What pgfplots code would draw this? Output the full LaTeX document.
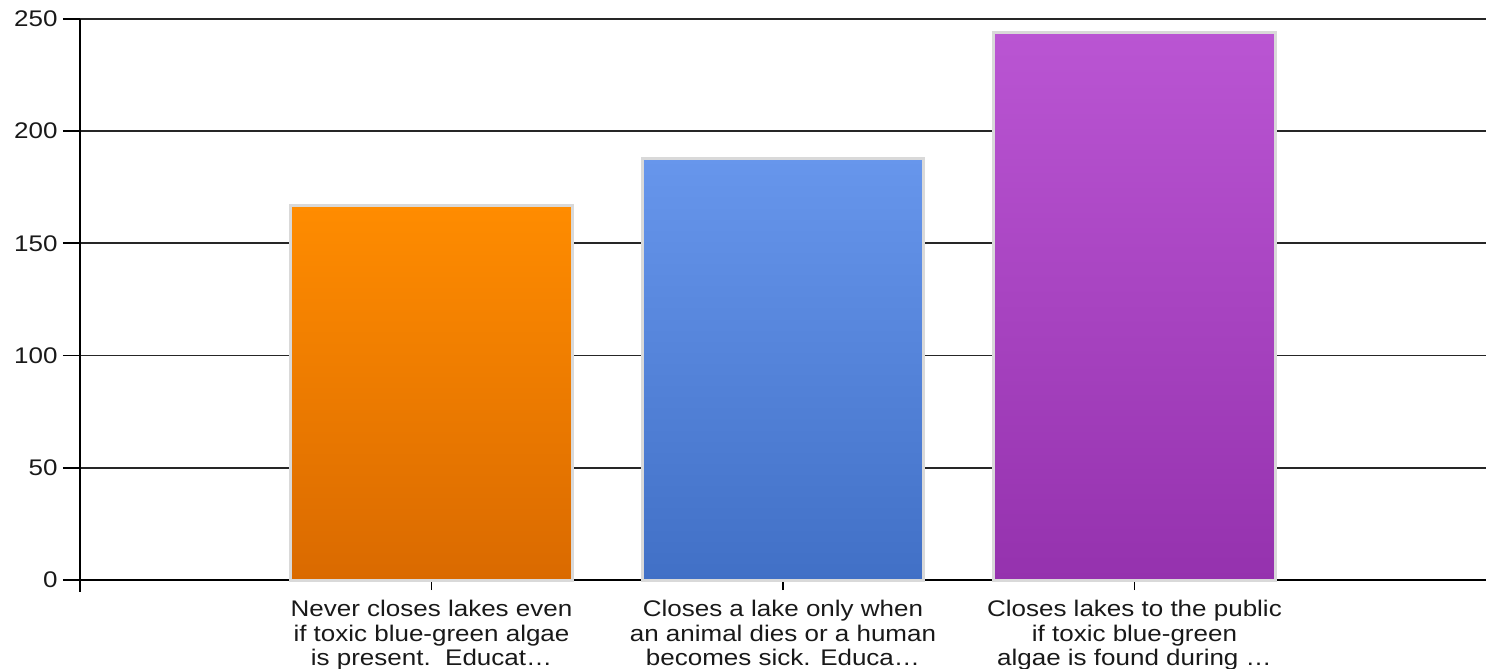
\documentclass[border=0pt]{standalone}
\usepackage{fontspec}
\setmainfont{Liberation Sans}[FakeStretch=1.15]
\usepackage{pgfplots}
\pgfplotsset{compat=1.18}

\definecolor{barborder}{HTML}{D9D9D9}
\definecolor{gridc}{HTML}{262626}
\definecolor{orgtop}{HTML}{FF8C00}
\definecolor{orgbot}{HTML}{DA6A00}
\definecolor{blutop}{HTML}{6796EC}
\definecolor{blubot}{HTML}{4170C6}
\definecolor{purtop}{HTML}{BA55D3}
\definecolor{purbot}{HTML}{9532AE}

\begin{document}
\begin{tikzpicture}
\begin{axis}[
    scale only axis,
    width=1406pt, height=561pt,
    xmin=0, xmax=4,
    ymin=0, ymax=250,
    ytick={0,50,...,250},
    xtick={1,2,3},
    xticklabels={
        {Never closes lakes even\\if toxic blue-green algae\\is present.\ \ Educat\ldots},
        {Closes a lake only when\\an animal dies or a human\\becomes sick. Educa\ldots},
        {Closes lakes to the public\\if toxic blue-green\\algae is found during \ldots}},
    axis lines*=left,
    axis line style={black, line width=1.8pt},
    ymajorgrids,
    grid style={gridc, line width=1.8pt},
    tick align=outside,
    major tick length=17pt,
    xtick style={black, line width=1.8pt, /pgfplots/major tick length=10pt},
    ytick style={black, line width=1.8pt},
    tick label style={font=\fontsize{22.6}{24.5}\selectfont, text=black!90},
    y tick label style={xshift=-2pt},
    x tick label style={align=center},
    /pgf/number format/assume math mode=true,
    clip=false,
]
\addplot[ybar, bar shift=0pt, bar width=0.8, draw=barborder, line width=3pt,
    top color=orgtop, bottom color=orgbot] coordinates {(1,167)};
\addplot[ybar, bar shift=0pt, bar width=0.8, draw=barborder, line width=3pt,
    top color=blutop, bottom color=blubot] coordinates {(2,188)};
\addplot[ybar, bar shift=0pt, bar width=0.8, draw=barborder, line width=3pt,
    top color=purtop, bottom color=purbot] coordinates {(3,244)};
\draw[black, line width=1.8pt] (axis cs:0,0) -- ++(0,-12pt);
\end{axis}
\pgfresetboundingbox
\path[use as bounding box] (-80pt,-89pt) rectangle (1406pt,580pt);
\end{tikzpicture}
\end{document}
